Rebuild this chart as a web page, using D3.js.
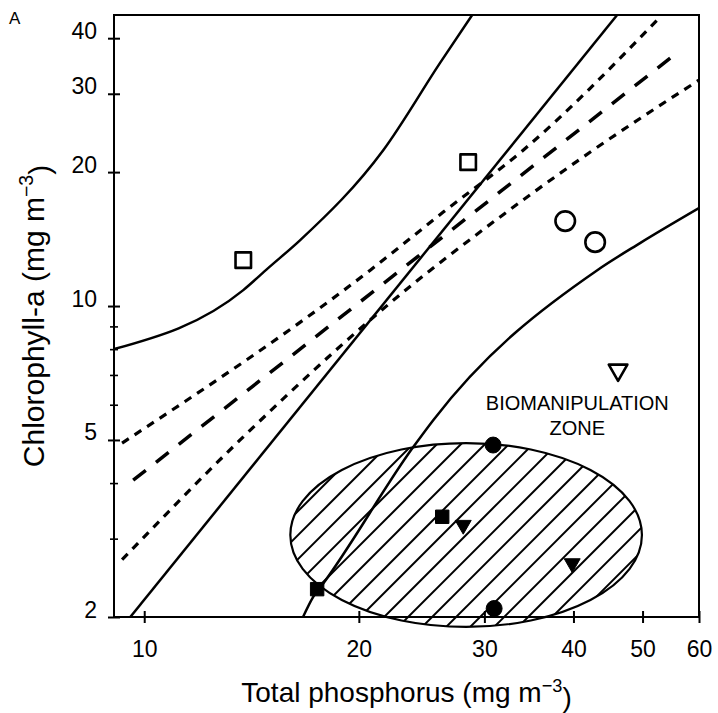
<!DOCTYPE html>
<html>
<head>
<meta charset="utf-8">
<script src="https://cdn.jsdelivr.net/npm/d3@7"></script>
<style>
body { margin: 0; background: #fff; }
svg { display: block; font-family: "Liberation Sans", Arial, Helvetica, sans-serif; }
</style>
</head>
<body>
<div id="chart"></div>
<script>
const width = 718, height = 713;
const margin = { top: 15, right: 19, bottom: 96, left: 114 };

// axes
const xDomain = [9.07, 60];
const yDomain = [2, 45.1];
const xTicks = [10, 20, 30, 40, 50, 60];
const yTicksMajor = [2, 5, 10, 20, 30, 40];
const yTicksMinor = [3, 4, 6, 7, 8, 9];

// lines, [TP, Chl-a]
const regression = [[9.65, 4.06], [56.5, 37.6]];
const upperConf = [[9.31, 4.92], [20.75, 12.04], [26.27, 16.26], [34.0, 22.4], [52.9, 44.6]];
const lowerConf = [[9.31, 2.69], [13.63, 5.0], [25.2, 12.04], [26.6, 12.88], [42.6, 22.4], [60, 32.2]];
const upperPred = [[9.07, 8.0], [13.77, 10.86], [14.92, 12.17], [16.55, 14.07], [21.64, 22.4], [26.0, 35.2], [28.84, 45.1]];
const lowerPred = [[16.7, 2.0], [17.26, 2.22], [17.83, 2.38], [23.84, 4.82], [25.43, 5.54], [43.2, 12.04], [49.6, 13.85], [60, 16.6]];
const steepLine = [[9.56, 2.0], [46.06, 45.1]];

// lakes
const openSquares = [[13.77, 12.68], [28.47, 21.06]];
const openCircles = [[38.95, 15.52], [42.9, 13.92]];
const openTriangles = [[46.2, 7.18]];
const filledCircles = [[30.86, 4.87], [30.96, 2.09]];
const filledSquares = [[26.18, 3.36], [17.48, 2.31]];
const filledTriangles = [[28.02, 3.22], [39.84, 2.64]];

// biomanipulation zone extent
const zoneTP = [16.03, 49.9];
const zoneChl = [1.90, 4.92];

const svg = d3.select('#chart')
	.append('svg')
	.attr('width', width)
	.attr('height', height);

const x = d3.scaleLog()
	.domain(xDomain)
	.range([margin.left, width - margin.right]);

const y = d3.scaleLog()
	.domain(yDomain)
	.range([height - margin.bottom, margin.top]);

svg.append('clipPath').attr('id', 'plot')
	.append('rect')
	.attr('x', margin.left).attr('y', margin.top)
	.attr('width', width - margin.left - margin.right)
	.attr('height', height - margin.top - margin.bottom);

// hatched ellipse
const ex0 = x(zoneTP[0]), ex1 = x(zoneTP[1]);
const ey0 = y(zoneChl[1]), ey1 = y(zoneChl[0]);
const cx = (ex0 + ex1) / 2, cy = (ey0 + ey1) / 2;
const rx = (ex1 - ex0) / 2, ry = (ey1 - ey0) / 2;

svg.append('clipPath').attr('id', 'zone')
	.append('ellipse')
	.attr('cx', cx).attr('cy', cy).attr('rx', rx).attr('ry', ry);

svg.append('g')
	.attr('clip-path', 'url(#zone)')
	.selectAll('line')
	.data(d3.range(-20, 21))
	.join('line')
	.attr('x1', k => cx + k * 24 - 200)
	.attr('y1', cy + 200)
	.attr('x2', k => cx + k * 24 + 200)
	.attr('y2', cy - 200)
	.attr('stroke', '#000')
	.attr('stroke-width', 2);

svg.append('ellipse')
	.attr('cx', cx).attr('cy', cy).attr('rx', rx).attr('ry', ry)
	.attr('fill', 'none')
	.attr('stroke', '#000')
	.attr('stroke-width', 2.2);

// lines
const line = d3.line()
	.x(d => x(d[0]))
	.y(d => y(d[1]))
	.curve(d3.curveMonotoneX);

const lines = svg.append('g').attr('clip-path', 'url(#plot)')
	.attr('fill', 'none')
	.attr('stroke', '#000');

lines.append('path').attr('d', line(upperPred)).attr('stroke-width', 2.5);
lines.append('path').attr('d', line(lowerPred)).attr('stroke-width', 2.5);
lines.append('path').attr('d', line(steepLine)).attr('stroke-width', 2.5);
lines.append('path').attr('d', line(regression))
	.attr('stroke-width', 3.5)
	.attr('stroke-dasharray', '16,13');
lines.append('path').attr('d', line(upperConf))
	.attr('stroke-width', 3.2)
	.attr('stroke-dasharray', '8,7');
lines.append('path').attr('d', line(lowerConf))
	.attr('stroke-width', 3.2)
	.attr('stroke-dasharray', '8,7');

// points
function drawPoints(data, type, size, filled, rotate) {
	svg.append('g')
		.selectAll('path')
		.data(data)
		.join('path')
		.attr('d', d3.symbol().type(type).size(size))
		.attr('transform', d => `translate(${x(d[0])},${y(d[1])})` + (rotate ? ' rotate(180)' : ''))
		.attr('fill', filled ? '#000' : '#fff')
		.attr('stroke', '#000')
		.attr('stroke-width', filled ? 1 : 2.6)
		.attr('stroke-linejoin', 'round');
}

drawPoints(openSquares, d3.symbolSquare, 240, false, false);
drawPoints(openCircles, d3.symbolCircle, 300, false, false);
drawPoints(openTriangles, d3.symbolTriangle, 150, false, true);
drawPoints(filledCircles, d3.symbolCircle, 200, true, false);
drawPoints(filledSquares, d3.symbolSquare, 180, true, false);
drawPoints(filledTriangles, d3.symbolTriangle, 110, true, true);

// frame
svg.append('rect')
	.attr('x', margin.left).attr('y', margin.top)
	.attr('width', width - margin.left - margin.right)
	.attr('height', height - margin.top - margin.bottom)
	.attr('fill', 'none')
	.attr('stroke', '#000')
	.attr('stroke-width', 2);

// axes
const xAxis = svg.append('g')
	.attr('transform', `translate(0,${height - margin.bottom})`)
	.call(d3.axisBottom(x).tickValues(xTicks).tickFormat(d3.format('d')).tickSize(6).tickPadding(18))
	.call(g => g.select('.domain').remove());
xAxis.selectAll('.tick line').attr('y1', -6).attr('stroke-width', 2);
xAxis.selectAll('text').attr('font-size', 23).attr('fill', '#000').attr('font-family', null);

const yAxis = svg.append('g')
	.attr('transform', `translate(${margin.left},0)`)
	.call(d3.axisLeft(y).tickValues(yTicksMajor).tickFormat(d3.format('d')).tickSize(6).tickPadding(11))
	.call(g => g.select('.domain').remove());
yAxis.selectAll('.tick line').attr('x1', 6).attr('stroke-width', 2);
yAxis.selectAll('text').attr('font-size', 23).attr('fill', '#000').attr('dy', '0em').attr('font-family', null);

const yMinor = svg.append('g')
	.attr('transform', `translate(${margin.left},0)`)
	.call(d3.axisLeft(y).tickValues(yTicksMinor).tickFormat('').tickSize(4))
	.call(g => g.select('.domain').remove());
yMinor.selectAll('.tick line').attr('x1', 4).attr('stroke-width', 1.6);

// titles
const xt = svg.append('text')
	.attr('x', (margin.left + width - margin.right) / 2)
	.attr('y', 702)
	.attr('text-anchor', 'middle')
	.attr('font-size', 28);
xt.append('tspan').text('Total phosphorus (mg m');
xt.append('tspan').attr('dy', '-0.55em').attr('font-size', '0.65em').text('\u22123');
xt.append('tspan').attr('dy', '0.55em').text(')');

const yt = svg.append('text')
	.attr('transform', `translate(44,${(margin.top + height - margin.bottom) / 2}) rotate(-90)`)
	.attr('text-anchor', 'middle')
	.attr('font-size', 30);
yt.append('tspan').text('Chlorophyll-a (mg m');
yt.append('tspan').attr('dy', '-0.55em').attr('font-size', '0.65em').text('\u22123');
yt.append('tspan').attr('dy', '0.55em').text(')');

svg.append('text')
	.attr('x', 9).attr('y', 24)
	.attr('font-size', 17)
	.text('A');

const zone = svg.append('text')
	.attr('text-anchor', 'middle')
	.attr('font-size', 20);
zone.append('tspan').attr('x', x(40.5)).attr('y', 410).text('BIOMANIPULATION');
zone.append('tspan').attr('x', x(40.5)).attr('y', 435).text('ZONE');
</script>
</body>
</html>
